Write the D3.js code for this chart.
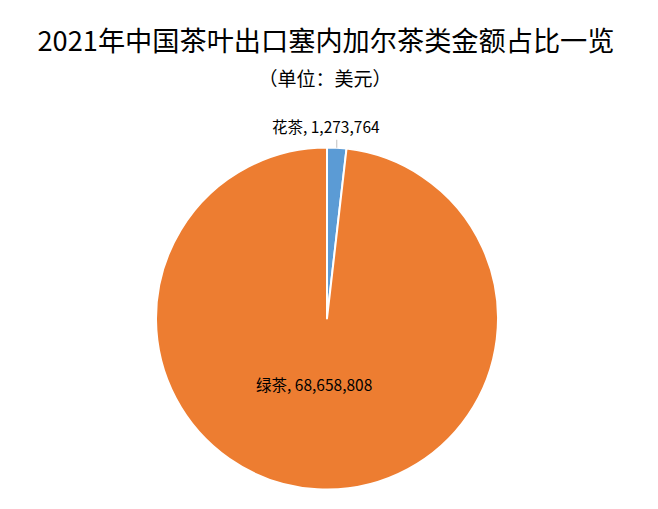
<!DOCTYPE html>
<html><head><meta charset="utf-8">
<script src="https://cdn.jsdelivr.net/npm/d3@7/dist/d3.min.js"></script>
<style>body{margin:0;background:#fff;}svg{display:block;font-family:"Noto Sans CJK SC","Noto Sans",sans-serif;}</style>
</head><body>
<svg id="c" width="658" height="509"></svg>
<script>
const categories = ["花茶", "绿茶"];
const values = [1273764, 68658808];
const colors = ["#5B9BD5", "#ED7D31"];
const title = "2021年中国茶叶出口塞内加尔茶类金额占比一览";
const subtitle = "（单位：美元）";

const svg = d3.select("#c");
const cx = 327, cy = 318.5, R = 171;

svg.append("text").attr("x", 326).attr("y", 51).attr("text-anchor", "middle")
  .attr("font-size", 27.2).attr("fill", "#000").text(title);
svg.append("text").attr("x", 325).attr("y", 86).attr("text-anchor", "middle")
  .attr("font-size", 19).attr("fill", "#000").text(subtitle);

const data = categories.map((c, i) => ({cat: c, val: values[i], color: colors[i]}));
const pie = d3.pie().value(d => d.val).sort(null);
const arcs = pie(data);
const arc = d3.arc().innerRadius(0).outerRadius(R);
const g = svg.append("g").attr("transform", `translate(${cx},${cy})`);
g.selectAll("path").data(arcs).enter().append("path")
  .attr("d", arc).attr("fill", d => d.data.color)
  .attr("stroke", "#fff").attr("stroke-width", 2).attr("stroke-linejoin", "round");

const fmt = d3.format(",");
const a0 = arcs[0];
const mid0 = (a0.startAngle + a0.endAngle) / 2;
const px = Math.sin(mid0) * R, py = -Math.cos(mid0) * R;
g.append("line").attr("x1", px).attr("y1", py).attr("x2", px).attr("y2", py - 8)
  .attr("stroke", "#bfbfbf").attr("stroke-width", 1);
g.append("text").attr("x", px - 11).attr("y", py - 15).attr("text-anchor", "middle")
  .attr("font-size", 15.5).attr("fill", "#000")
  .text(`${a0.data.cat}, ${fmt(a0.data.val)}`);

const a1 = arcs[1];
const lab = d3.arc().innerRadius(0).outerRadius(R * 0.78).centroid(a1);
g.append("text").attr("x", lab[0] - 9).attr("y", lab[1] + 6).attr("text-anchor", "middle")
  .attr("font-size", 15.5).attr("fill", "#000")
  .text(`${a1.data.cat}, ${fmt(a1.data.val)}`);
</script>
</body></html>
